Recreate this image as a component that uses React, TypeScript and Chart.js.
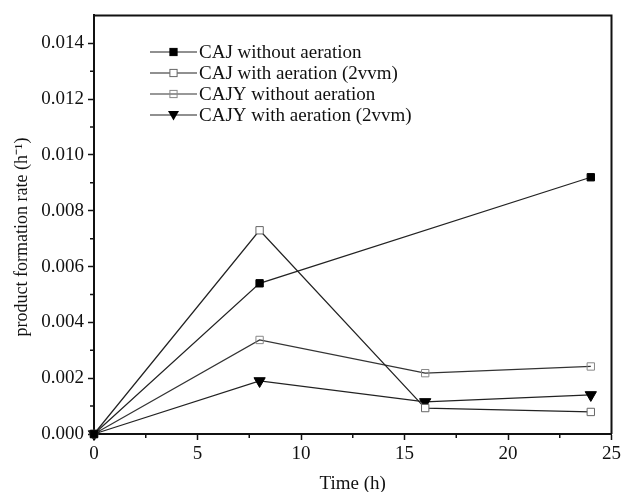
import React, { useEffect, useRef } from "react";
import { Chart, registerables } from "chart.js";

Chart.register(...registerables);

const times = [0, 8, 16, 24];
const seriesLabels = [
  "CAJ without aeration",
  "CAJ with aeration (2vvm)",
  "CAJY without aeration",
  "CAJY with aeration (2vvm)",
];
const cajNoAir: (number | null)[] = [0, 0.0054, null, 0.0092];
const cajAir = [0, 0.0073, 0.00093, 0.00079];
const cajyNoAir = [0, 0.00337, 0.00218, 0.00242];
const cajyAir = [0, 0.0019, 0.00115, 0.0014];
const xTitle = "Time (h)";
const yTitle = "product formation rate (h\u207B\u00B9)";

const FONT = '"Liberation Serif", "Times New Roman", serif';

const frameAndExtras = {
  id: "frameAndExtras",
  afterDraw(chart: any) {
    const { ctx, chartArea } = chart;
    const xs = chart.scales.x;
    const ys = chart.scales.y;
    ctx.save();
    // frame top/right
    ctx.strokeStyle = "#111";
    ctx.lineWidth = 2;
    ctx.beginPath();
    ctx.moveTo(chartArea.left, chartArea.top);
    ctx.lineTo(chartArea.right, chartArea.top);
    ctx.lineTo(chartArea.right, chartArea.bottom);
    ctx.stroke();
    // minor ticks
    ctx.lineWidth = 1.5;
    ctx.beginPath();
    for (let v = 2.5; v < 25; v += 5) {
      const px = xs.getPixelForValue(v);
      ctx.moveTo(px, chartArea.bottom);
      ctx.lineTo(px, chartArea.bottom + 4);
    }
    for (let v = 0.001; v < 0.015; v += 0.002) {
      const py = ys.getPixelForValue(v);
      ctx.moveTo(chartArea.left, py);
      ctx.lineTo(chartArea.left - 4, py);
    }
    ctx.stroke();
    // axis titles
    ctx.fillStyle = "#111";
    ctx.font = `19px ${FONT}`;
    ctx.textAlign = "center";
    ctx.textBaseline = "middle";
    ctx.fillText(xTitle, (chartArea.left + chartArea.right) / 2, 484);
    ctx.save();
    ctx.translate(22, 237);
    ctx.rotate(-Math.PI / 2);
    ctx.font = `18px ${FONT}`;
    ctx.fillText(yTitle, 0, 0);
    ctx.restore();
    // legend
    const rowY = [52, 73, 94, 115];
    chart.data.datasets.forEach((ds: any, i: number) => {
      const y = rowY[i];
      ctx.strokeStyle = ds.borderColor;
      ctx.lineWidth = 1.2;
      ctx.beginPath();
      ctx.moveTo(150, y);
      ctx.lineTo(197, y);
      ctx.stroke();
      const cx = 173.5;
      ctx.lineWidth = 1;
      ctx.strokeStyle = ds.pointBorderColor;
      if (ds.pointStyle === "rect") {
        const s = 3.6;
        if (ds.pointBackgroundColor !== "transparent") {
          ctx.fillStyle = ds.pointBackgroundColor;
          ctx.fillRect(cx - s, y - s, 2 * s, 2 * s);
        }
        ctx.strokeRect(cx - s, y - s, 2 * s, 2 * s);
      } else {
        ctx.fillStyle = ds.pointBackgroundColor;
        ctx.beginPath();
        ctx.moveTo(cx - 5.5, y - 4);
        ctx.lineTo(cx + 5.5, y - 4);
        ctx.lineTo(cx, y + 5.5);
        ctx.closePath();
        ctx.fill();
      }
      ctx.fillStyle = "#111";
      ctx.font = `19px ${FONT}`;
      ctx.textAlign = "left";
      ctx.textBaseline = "middle";
      ctx.fillText(ds.label, 199, y + 1);
    });
    ctx.restore();
  },
};

function toPoints(vals: (number | null)[]) {
  return times.map((t, i) => ({ x: t, y: vals[i] }));
}

export default function App() {
  const ref = useRef<HTMLCanvasElement | null>(null);
  useEffect(() => {
    document.body.style.margin = "0";
    const canvas = ref.current!;
    const common = {
      borderWidth: 1.2,
      pointBorderWidth: 1,
      spanGaps: true,
      tension: 0,
      clip: false as any,
    };
    const chart = new Chart(canvas, {
      type: "line",
      data: {
        datasets: [
          {
            ...common,
            label: seriesLabels[0],
            data: toPoints(cajNoAir) as any,
            borderColor: "#222",
            pointStyle: "rect",
            pointRadius: 5.2,
            pointBackgroundColor: "#000",
            pointBorderColor: "#000",
          },
          {
            ...common,
            label: seriesLabels[1],
            data: toPoints(cajAir) as any,
            borderColor: "#222",
            pointStyle: "rect",
            pointRadius: 5.2,
            pointBackgroundColor: "#fff",
            pointBorderColor: "#666",
          },
          {
            ...common,
            label: seriesLabels[2],
            data: toPoints(cajyNoAir) as any,
            borderColor: "#333",
            pointStyle: "rect",
            pointRadius: 5.2,
            pointBackgroundColor: "transparent",
            pointBorderColor: "#888",
          },
          {
            ...common,
            label: seriesLabels[3],
            data: toPoints(cajyAir) as any,
            borderColor: "#222",
            pointStyle: "triangle",
            pointRotation: 180,
            pointRadius: 6.5,
            pointBackgroundColor: "#000",
            pointBorderColor: "#000",
          },
        ],
      },
      options: {
        animation: false,
        responsive: false,
        maintainAspectRatio: false,
        layout: { padding: { top: 13, right: 11, left: 0, bottom: 0 } },
        plugins: {
          legend: { display: false },
          tooltip: { enabled: false },
        },
        scales: {
          x: {
            type: "linear",
            min: 0,
            max: 25,
            ticks: {
              stepSize: 5,
              color: "#111",
              font: { family: FONT, size: 19 },
              padding: 3,
              maxRotation: 0,
            },
            grid: {
              drawOnChartArea: false,
              drawTicks: true,
              tickLength: 6,
              tickWidth: 1.5,
              tickColor: "#111",
            },
            border: { display: true, color: "#111", width: 2 },
            afterFit: (s: any) => {
              s.height = 58;
            },
          },
          y: {
            type: "linear",
            min: 0,
            max: 0.015,
            ticks: {
              stepSize: 0.002,
              includeBounds: false,
              color: "#111",
              font: { family: FONT, size: 19 },
              padding: 4,
              callback: (v: any) => Number(v).toFixed(3),
            },
            grid: {
              drawOnChartArea: false,
              drawTicks: true,
              tickLength: 6,
              tickWidth: 1.5,
              tickColor: "#111",
            },
            border: { display: true, color: "#111", width: 2 },
            afterFit: (s: any) => {
              s.width = 94;
            },
          },
        },
      },
      plugins: [frameAndExtras],
    });
    return () => chart.destroy();
  }, []);
  return (
    <div style={{ position: "relative", width: 624, height: 492, background: "#fff" }}>
      <canvas ref={ref} width={624} height={492} style={{ width: 624, height: 492 }} />
    </div>
  );
}
